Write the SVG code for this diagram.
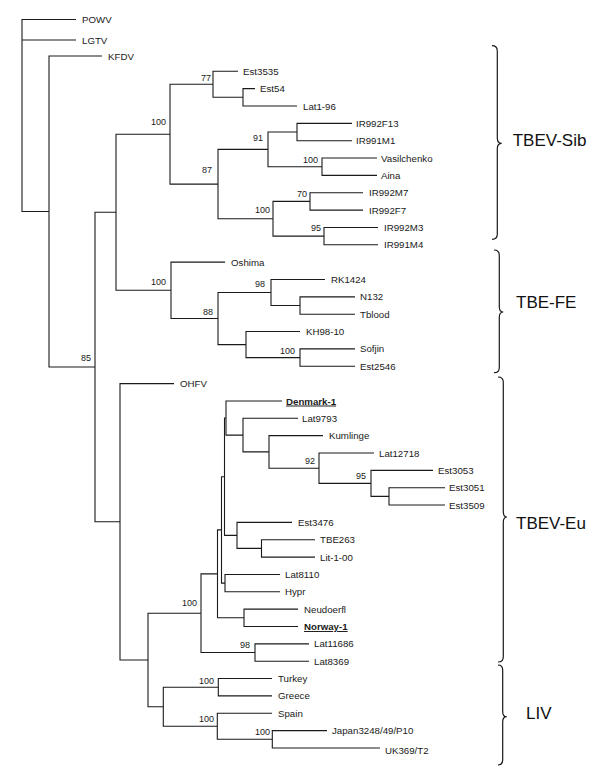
<svg xmlns="http://www.w3.org/2000/svg" width="600" height="783" viewBox="0 0 600 783">
<style>
.br{fill:none;stroke:#1a1a1a;stroke-width:1.1}
.bc{fill:none;stroke:#1a1a1a;stroke-width:1.2}
.lf{font-family:"Liberation Sans",Arial,sans-serif;font-size:9.7px;fill:#1a1a1a}
.bs{font-family:"Liberation Sans",Arial,sans-serif;font-size:9px;fill:#1a1a1a;text-anchor:end}
.cl{font-family:"Liberation Sans",Arial,sans-serif;font-size:17px;fill:#111}
.ul{font-weight:bold;text-decoration:underline}
</style>
<rect width="600" height="783" fill="#fff"/>
<g id="connectors">
<path class="br" d="M76,19.5H22V211.5H49 M22,40H76"/>
<path class="br" d="M102,56H49V367H95"/>
<path class="br" d="M116,212.3H95V521.8H120"/>
<path class="br" d="M170,134.2H116V290.3H171"/>
<path class="br" d="M213,84.3H170V184.1H218"/>
<path class="br" d="M238,71.3H213V97.3H243"/>
<path class="br" d="M255,88.65H243V106H297"/>
<path class="br" d="M268,149.4H218V218.8H273"/>
<path class="br" d="M297,132H268V166.7H322"/>
<path class="br" d="M352,123.35H297V140.7H352"/>
<path class="br" d="M377,158.05H322V175.4H377"/>
<path class="br" d="M310,201.4H273V236.1H324"/>
<path class="br" d="M363,192.75H310V210.1H363"/>
<path class="br" d="M378,227.45H324V244.8H378"/>
<path class="br" d="M225,262.15H171V318.5H218"/>
<path class="br" d="M271,292.5H218V344.6H246"/>
<path class="br" d="M325,279.5H271V305.5H300"/>
<path class="br" d="M355,296.85H300V314.2H355"/>
<path class="br" d="M300,331.55H246V357.6H300"/>
<path class="br" d="M355,348.9H300V366.25H355"/>
<path class="br" d="M174,383.6H120V660H148"/>
<path class="br" d="M201,613.2H148V706.8H163.3"/>
<path class="br" d="M217.5,573.9H201V652.5H255"/>
<path class="br" d="M221.5,529.9H217.5V617.8H244"/>
<path class="br" d="M224.5,476.7H221.5V583.1H225"/>
<path class="br" d="M226,418H224.5V535.4H237"/>
<path class="br" d="M282,400.95H226V435.1H243"/>
<path class="br" d="M298,418.3H243V451.9H269"/>
<path class="br" d="M323,435.65H269V468.2H319"/>
<path class="br" d="M374,453H319V483.4H371"/>
<path class="br" d="M433,470.35H371V496.4H389"/>
<path class="br" d="M445,487.7H389V505.05H445"/>
<path class="br" d="M292,522.4H237V548.4H261.5"/>
<path class="br" d="M315,539.75H261.5V557.1H315"/>
<path class="br" d="M280,574.45H225V591.8H280"/>
<path class="br" d="M298,609.15H244V626.5H298"/>
<path class="br" d="M309,643.85H255V661.2H309"/>
<path class="br" d="M218.3,687.2H163.3V726.3H217.3"/>
<path class="br" d="M272,678.55H218.3V695.9H272"/>
<path class="br" d="M272,713.25H217.3V739.3H272.3"/>
<path class="br" d="M327,730.6H272.3V747.95H380"/>
</g>
<g id="leaves">
<g id="POWV"><text class="lf" x="82" y="23">POWV</text></g>
<g id="LGTV"><text class="lf" x="82" y="43.5">LGTV</text></g>
<g id="KFDV"><text class="lf" x="108" y="59.5">KFDV</text></g>
<g id="Est3535"><text class="lf" x="243" y="74.8">Est3535</text></g>
<g id="Est54"><text class="lf" x="260" y="92.2">Est54</text></g>
<g id="Lat1-96"><text class="lf" x="303" y="109.5">Lat1-96</text></g>
<g id="IR992F13"><text class="lf" x="356" y="126.9">IR992F13</text></g>
<g id="IR991M1"><text class="lf" x="356" y="144.2">IR991M1</text></g>
<g id="Vasilchenko"><text class="lf" x="381" y="161.6">Vasilchenko</text></g>
<g id="Aina"><text class="lf" x="381" y="178.9">Aina</text></g>
<g id="IR992M7"><text class="lf" x="369" y="196.3">IR992M7</text></g>
<g id="IR992F7"><text class="lf" x="369" y="213.6">IR992F7</text></g>
<g id="IR992M3"><text class="lf" x="384" y="231">IR992M3</text></g>
<g id="IR991M4"><text class="lf" x="384" y="248.3">IR991M4</text></g>
<g id="Oshima"><text class="lf" x="231" y="265.7">Oshima</text></g>
<g id="RK1424"><text class="lf" x="331" y="283">RK1424</text></g>
<g id="N132"><text class="lf" x="360" y="300.4">N132</text></g>
<g id="Tblood"><text class="lf" x="360" y="317.7">Tblood</text></g>
<g id="KH98-10"><text class="lf" x="306" y="335.1">KH98-10</text></g>
<g id="Sofjin"><text class="lf" x="360" y="352.4">Sofjin</text></g>
<g id="Est2546"><text class="lf" x="360" y="369.8">Est2546</text></g>
<g id="OHFV"><text class="lf" x="180" y="387.1">OHFV</text></g>
<g id="Denmark-1"><text class="lf ul" x="286" y="404.5">Denmark-1</text></g>
<g id="Lat9793"><text class="lf" x="302" y="421.8">Lat9793</text></g>
<g id="Kumlinge"><text class="lf" x="329" y="439.2">Kumlinge</text></g>
<g id="Lat12718"><text class="lf" x="379" y="456.5">Lat12718</text></g>
<g id="Est3053"><text class="lf" x="438" y="473.9">Est3053</text></g>
<g id="Est3051"><text class="lf" x="449" y="491.2">Est3051</text></g>
<g id="Est3509"><text class="lf" x="449" y="508.6">Est3509</text></g>
<g id="Est3476"><text class="lf" x="298" y="525.9">Est3476</text></g>
<g id="TBE263"><text class="lf" x="320" y="543.3">TBE263</text></g>
<g id="Lit-1-00"><text class="lf" x="320" y="560.6">Lit-1-00</text></g>
<g id="Lat8110"><text class="lf" x="285" y="578">Lat8110</text></g>
<g id="Hypr"><text class="lf" x="285" y="595.3">Hypr</text></g>
<g id="Neudoerfl"><text class="lf" x="304" y="612.7">Neudoerfl</text></g>
<g id="Norway-1"><text class="lf ul" x="304" y="630">Norway-1</text></g>
<g id="Lat11686"><text class="lf" x="314" y="647.4">Lat11686</text></g>
<g id="Lat8369"><text class="lf" x="314" y="664.7">Lat8369</text></g>
<g id="Turkey"><text class="lf" x="278" y="682.1">Turkey</text></g>
<g id="Greece"><text class="lf" x="278" y="699.4">Greece</text></g>
<g id="Spain"><text class="lf" x="278" y="716.8">Spain</text></g>
<g id="Japan3248"><text class="lf" x="332" y="734.1">Japan3248/49/P10</text></g>
<g id="UK369"><text class="lf" x="385" y="754">UK369/T2</text></g>
</g>
<g id="bootstrap">
<g id="bs77"><text class="bs" x="211" y="81">77</text></g>
<g id="bsSib"><text class="bs" x="166" y="125">100</text></g>
<g id="bs91"><text class="bs" x="263" y="141">91</text></g>
<g id="bs87"><text class="bs" x="212" y="173">87</text></g>
<g id="bsVas"><text class="bs" x="318" y="163">100</text></g>
<g id="bs70"><text class="bs" x="307" y="197">70</text></g>
<g id="bsIR"><text class="bs" x="270" y="213">100</text></g>
<g id="bs95a"><text class="bs" x="321" y="231">95</text></g>
<g id="bsFE"><text class="bs" x="166" y="285">100</text></g>
<g id="bs98a"><text class="bs" x="265" y="287">98</text></g>
<g id="bs88"><text class="bs" x="213" y="315">88</text></g>
<g id="bsSof"><text class="bs" x="295" y="354">100</text></g>
<g id="bs85"><text class="bs" x="91" y="361">85</text></g>
<g id="bs92"><text class="bs" x="315" y="464">92</text></g>
<g id="bs95b"><text class="bs" x="366" y="479">95</text></g>
<g id="bsEu"><text class="bs" x="197" y="606">100</text></g>
<g id="bs98b"><text class="bs" x="250" y="648">98</text></g>
<g id="bsTG"><text class="bs" x="214" y="684">100</text></g>
<g id="bsSJ"><text class="bs" x="214" y="722">100</text></g>
<g id="bsJU"><text class="bs" x="270" y="735">100</text></g>
</g>
<g id="clade-TBEV-Sib">
<path class="bc" d="M492,45.7Q497.3,45.7 497.3,51L497.3,138Q497.3,143.3 501.7,143.3Q497.3,143.3 497.3,148.6L497.3,234Q497.3,239.3 492,239.3"/>
<text class="cl" x="512.7" y="146">TBEV-Sib</text>
</g>
<g id="clade-TBE-FE">
<path class="bc" d="M494,250Q499.3,250 499.3,255.3L499.3,306.7Q499.3,312 503.3,312Q499.3,312 499.3,317.3L499.3,367.4Q499.3,372.7 494,372.7"/>
<text class="cl" x="516" y="308">TBE-FE</text>
</g>
<g id="clade-TBEV-Eu">
<path class="bc" d="M498,377Q503.3,377 503.3,382.3L503.3,511.7Q503.3,517 507,517Q503.3,517 503.3,522.3L503.3,656.7Q503.3,662 498,662"/>
<text class="cl" x="516" y="529">TBEV-Eu</text>
</g>
<g id="clade-LIV">
<path class="bc" d="M498,665Q502.7,665 502.7,670.3L502.7,711.4Q502.7,716.7 506.7,716.7Q502.7,716.7 502.7,722L502.7,759.7Q502.7,765 498,765"/>
<text class="cl" x="526" y="719">LIV</text>
</g>
</svg>
